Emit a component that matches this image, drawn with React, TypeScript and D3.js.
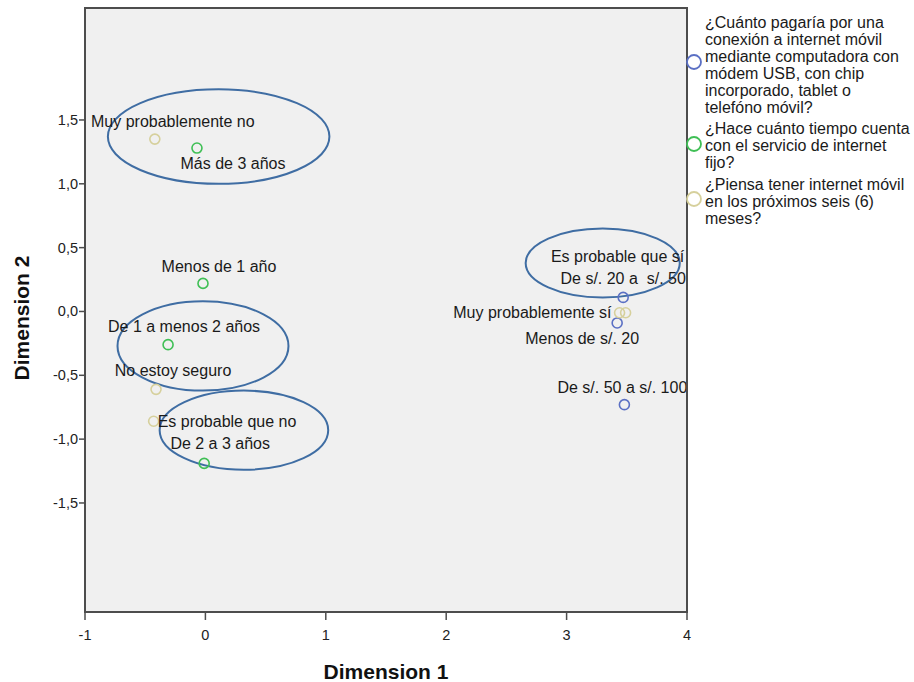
import React from "react";
import * as d3 from "d3";

// ---- Data ----
const legendQuestions = [
  ["¿Cuánto pagaría por una", "conexión a internet móvil", "mediante computadora con", "módem USB, con chip", "incorporado, tablet o", "telefóno móvil?"],
  ["¿Hace cuánto tiempo cuenta", "con el servicio de internet", "fijo?"],
  ["¿Piensa tener internet móvil", "en los próximos seis (6)", "meses?"],
];
const seriesColors = ["#5b70c4", "#3fbf55", "#d6d09c"];

const costLabels = ["De s/. 20 a  s/. 50", "Menos de s/. 20", "De s/. 50 a s/. 100"];
const costDim1 = [3.47, 3.42, 3.48];
const costDim2 = [0.11, -0.09, -0.73];

const timeLabels = ["Más de 3 años", "Menos de 1 año", "De 1 a menos 2 años", "De 2 a 3 años"];
const timeDim1 = [-0.07, -0.02, -0.31, -0.01];
const timeDim2 = [1.28, 0.22, -0.26, -1.19];

const planLabels = ["Muy probablemente no", "No estoy seguro", "Es probable que no", "Muy probablemente sí", "Es probable que sí"];
const planDim1 = [-0.42, -0.41, -0.43, 3.44, 3.49];
const planDim2 = [1.35, -0.61, -0.86, -0.01, -0.01];

const xTicks = [-1, 0, 1, 2, 3, 4];
const yTicks = [1.5, 1.0, 0.5, 0.0, -0.5, -1.0, -1.5];

// annotation ellipses in data units: cx, cy, rx, ry
const ellipseCx = [0.11, -0.02, 0.32, 3.30];
const ellipseCy = [1.37, -0.27, -0.93, 0.38];
const ellipseRx = [0.92, 0.71, 0.70, 0.64];
const ellipseRy = [0.37, 0.35, 0.31, 0.27];

// label placement (pixel offsets from point, anchor)
const labelPlacement: Record<string, [number, number, string]> = {
  "Muy probablemente no": [18, -18, "middle"],
  "Más de 3 años": [36, 15, "middle"],
  "Menos de 1 año": [16, -17, "middle"],
  "De 1 a menos 2 años": [16, -18, "middle"],
  "No estoy seguro": [17, -19, "middle"],
  "Es probable que no": [4, 0, "start"],
  "De 2 a 3 años": [16, -20, "middle"],
  "Es probable que sí": [-8, -56, "middle"],
  "De s/. 20 a  s/. 50": [0, -19, "middle"],
  "Muy probablemente sí": [-8, 0, "end"],
  "Menos de s/. 20": [-35, 16, "middle"],
  "De s/. 50 a s/. 100": [-2, -17, "middle"],
};

const W = 914;
const H = 682;
const L = 85, R = 687, T = 8, B = 612;
const FONT = "'Liberation Sans', Arial, sans-serif";
const LABEL_SIZE = 16;

export default function App() {
  const x = d3.scaleLinear().domain([-1, 4]).range([L, R]);
  const y = d3.scaleLinear().domain([-2.354, 2.377]).range([B, T]);
  const fmt = (v: number) => (v < 0 ? "-" : "") + Math.abs(v).toFixed(1).replace(".", ",");

  const series = [
    { labels: costLabels, d1: costDim1, d2: costDim2, color: seriesColors[0] },
    { labels: timeLabels, d1: timeDim1, d2: timeDim2, color: seriesColors[1] },
    { labels: planLabels, d1: planDim1, d2: planDim2, color: seriesColors[2] },
  ];

  const legendStarts = [22, 128, 184];
  const legendCircleY = [62, 144, 199];

  return (
    <svg width={W} height={H} style={{ position: "absolute", left: 0, top: 0 }} fontFamily={FONT}>
      <defs>
        <clipPath id="plotclip">
          <rect x={L} y={T} width={R - L} height={B - T} />
        </clipPath>
      </defs>
      <rect x={0} y={0} width={W} height={H} fill="#ffffff" />
      <rect x={L} y={T} width={R - L} height={B - T} fill="#f0f0f0" />

      <g clipPath="url(#plotclip)">
        {ellipseCx.map((cx, i) => (
          <ellipse
            key={"e" + i}
            cx={x(cx)}
            cy={y(ellipseCy[i])}
            rx={x(ellipseRx[i]) - x(0)}
            ry={y(0) - y(ellipseRy[i])}
            fill="none"
            stroke="#3f6da3"
            strokeWidth={2}
          />
        ))}
        {series.map((s, si) =>
          s.labels.map((lab, i) => (
            <circle
              key={"p" + si + "-" + i}
              cx={x(s.d1[i])}
              cy={y(s.d2[i])}
              r={5}
              fill="none"
              stroke={s.color}
              strokeWidth={1.6}
            />
          ))
        )}
        {series.map((s, si) =>
          s.labels.map((lab, i) => {
            const p = labelPlacement[lab] || [0, -18, "middle"];
            return (
              <text
                key={"t" + si + "-" + i}
                x={x(s.d1[i]) + p[0]}
                y={y(s.d2[i]) + p[1]}
                textAnchor={p[2] as any}
                dominantBaseline="central"
                fontSize={LABEL_SIZE}
                fill="#1a1a1a"
                style={{ whiteSpace: "pre" }}
              >
                {lab}
              </text>
            );
          })
        )}
      </g>

      <rect x={L} y={T} width={R - L} height={B - T} fill="none" stroke="#4d4d4d" strokeWidth={2} />

      {yTicks.map((v) => (
        <g key={"yt" + v}>
          <line x1={L - 6} x2={L} y1={y(v)} y2={y(v)} stroke="#4d4d4d" strokeWidth={1.5} />
          <text x={L - 7} y={y(v)} textAnchor="end" dominantBaseline="central" fontSize={14.5} fill="#222">
            {fmt(v)}
          </text>
        </g>
      ))}
      {xTicks.map((v) => (
        <g key={"xt" + v}>
          <line x1={x(v)} x2={x(v)} y1={B} y2={B + 8} stroke="#4d4d4d" strokeWidth={1.5} />
          <text x={x(v)} y={B + 23} textAnchor="middle" dominantBaseline="central" fontSize={14.5} fill="#222">
            {String(v)}
          </text>
        </g>
      ))}

      <text x={(L + R) / 2} y={679} textAnchor="middle" fontSize={21} fontWeight="bold" fill="#111">
        Dimension 1
      </text>
      <text
        transform={`translate(29, ${(T + B) / 2 + 8}) rotate(-90)`}
        textAnchor="middle"
        fontSize={21}
        fontWeight="bold"
        fill="#111"
      >
        Dimension 2
      </text>

      {legendQuestions.map((lines, gi) => (
        <g key={"lg" + gi}>
          <circle cx={694} cy={legendCircleY[gi]} r={7} fill="none" stroke={seriesColors[gi]} strokeWidth={1.8} />
          {lines.map((ln, li) => (
            <text
              key={li}
              x={705}
              y={legendStarts[gi] + li * 17}
              dominantBaseline="central"
              fontSize={LABEL_SIZE}
              fill="#1a1a1a"
            >
              {ln}
            </text>
          ))}
        </g>
      ))}
    </svg>
  );
}
